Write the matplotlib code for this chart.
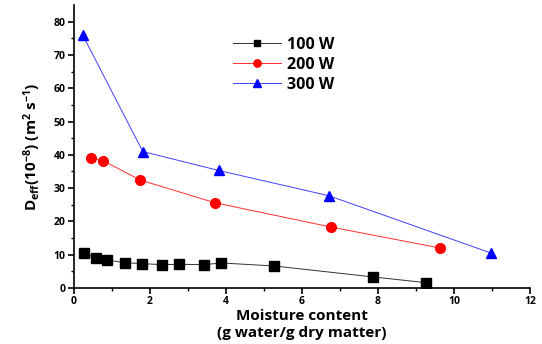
import matplotlib
matplotlib.use("Agg")
import matplotlib.pyplot as plt

# moisture content (g water / g dry matter) and Deff (1e-8 m2/s)
x_100 = [0.26, 0.57, 0.86, 1.34, 1.79, 2.32, 2.76, 3.42, 3.88, 5.27, 7.87, 9.25]
y_100 = [10.5, 9.0, 8.4, 7.6, 7.3, 7.0, 7.1, 7.0, 7.5, 6.6, 3.3, 1.6]
x_200 = [0.46, 0.77, 1.75, 3.71, 6.76, 9.63]
y_200 = [39.0, 38.2, 32.4, 25.6, 18.3, 12.0]
x_300 = [0.23, 1.81, 3.81, 6.71, 10.97]
y_300 = [76.0, 41.0, 35.3, 27.7, 10.5]
labels = ["100 W", "200 W", "300 W"]

plt.rcParams["font.family"] = ["Open Sans", "DejaVu Sans"]
plt.rcParams["mathtext.fontset"] = "custom"
plt.rcParams["mathtext.rm"] = "Open Sans:bold"
plt.rcParams["mathtext.it"] = "Open Sans:bold"

fig = plt.figure(figsize=(5.42, 3.44), dpi=100)
ax = fig.add_axes([0.1365, 0.163, 0.978 - 0.1365, 0.985 - 0.163])

ax.plot(x_100, y_100, color="#333333", lw=0.7, marker="s", ms=6.5,
        mfc="black", mec="black", label=labels[0])
ax.plot(x_200, y_200, color="#ff3030", lw=0.7, marker="o", ms=7,
        mfc="red", mec="red", label=labels[1])
ax.plot(x_300, y_300, color="#4040ff", lw=0.7, marker="^", ms=7.5,
        mfc="blue", mec="blue", label=labels[2])

ax.set_xlim(0, 12)
ax.set_ylim(0, 85)
ax.set_xticks(range(0, 13, 2))
ax.set_xticks(range(1, 12, 2), minor=True)
ax.set_yticks(range(0, 81, 10))
ax.set_yticks(range(5, 85, 10), minor=True)
for s in ["top", "right"]:
    ax.spines[s].set_visible(False)
for s in ["left", "bottom"]:
    ax.spines[s].set_linewidth(1.2)
ax.tick_params(which="major", direction="out", length=4, width=1.2,
               labelsize=7.5, pad=2)
ax.tick_params(which="minor", direction="out", length=2.5, width=1)
for t in ax.get_xticklabels() + ax.get_yticklabels():
    t.set_fontweight("bold")

ax.set_xlabel("Moisture content\n(g water/g dry matter)", fontsize=11,
              fontweight="bold", linespacing=1.3)
ax.xaxis.set_label_coords(0.5, -0.075)
ax.set_ylabel(r"D$_{\rm eff}$(10$^{-8}$) (m$^{2}$ s$^{-1}$)", fontsize=11,
              fontweight="bold", labelpad=8)

leg = ax.legend(loc="upper left", bbox_to_anchor=(0.335, 0.91), frameon=False,
                prop={"weight": "bold", "size": 11.5}, handlelength=3.0,
                labelspacing=0.25, handletextpad=0.4, borderaxespad=0,
                markerscale=0.75)

fig.savefig("out.png", dpi=100)
